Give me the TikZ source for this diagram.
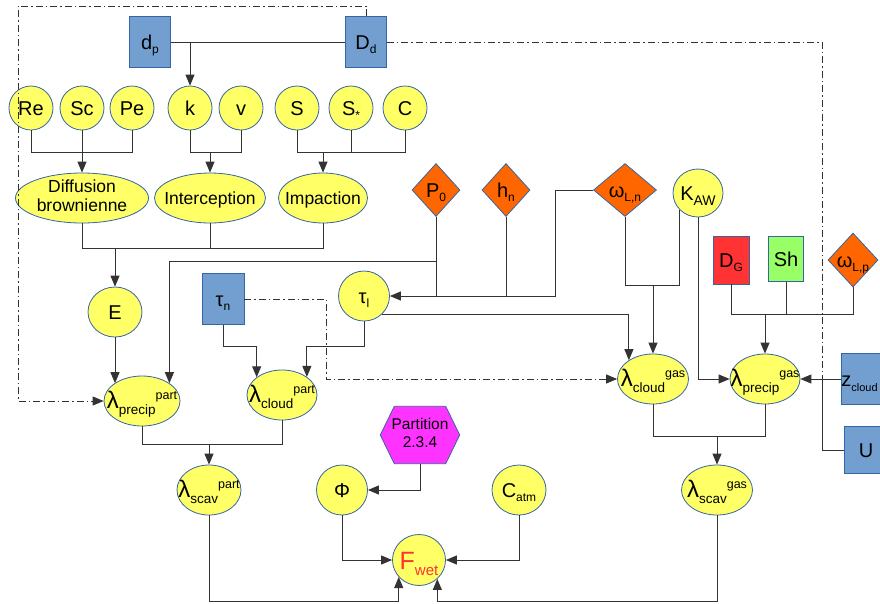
\documentclass[tikz,border=0pt]{standalone}
\usepackage{fontspec}
\setmainfont{Liberation Sans}
\usetikzlibrary{shapes.geometric,arrows.meta,backgrounds,calc}

\definecolor{yel}{HTML}{FFFF66}
\definecolor{bord}{HTML}{3465A4}
\definecolor{blu}{HTML}{729FCF}
\definecolor{ora}{HTML}{FF6600}
\definecolor{redb}{HTML}{FF3333}
\definecolor{grn}{HTML}{99FF66}
\definecolor{mag}{HTML}{FF33FF}
\definecolor{ln}{HTML}{333333}

\newcommand\zb[1]{\makebox[0pt]{\raisebox{-0.36em}[0pt][0pt]{#1}}}
\newcommand\sbs[2]{#1\raisebox{-4pt}{\fontsize{12}{12}\selectfont #2}}
\newcommand\lam[2]{\makebox[0pt]{\raisebox{-7pt}[0pt][0pt]{\fontsize{24}{24}\selectfont λ\raisebox{-6pt}{\fontsize{13.5}{14}\selectfont #1}\raisebox{9pt}{\fontsize{12.5}{13}\selectfont #2}}}}
\newcommand\twol[2]{\makebox[0pt]{\raisebox{-2pt}[0pt][0pt]{\parbox[c]{130pt}{\centering #1\\#2}}}}

\tikzset{
 base/.style={draw=bord, line width=0.8pt, inner sep=0pt, font=\fontsize{20}{24}\selectfont},
 circ/.style={base, ellipse, fill=yel},
 bbox/.style={base, rectangle, fill=blu},
 dia/.style={base, diamond, fill=ora},
 conn/.style={draw=ln, line width=1pt},
 arr/.style={conn, -{Triangle[length=11pt,width=9pt]}},
 dd/.style={draw=ln, line width=1pt, dash pattern=on 7pt off 3pt on 1.5pt off 3pt},
 dda/.style={dd, -{Triangle[length=11pt,width=9pt]}},
}

\begin{document}
\begin{tikzpicture}[x=1pt,y=-1pt]
\useasboundingbox (0,0) rectangle (880,603);
\clip (0,0) rectangle (880,603);

% top boxes
\node[bbox, minimum width=41pt, minimum height=51pt] (dp) at (150,42) {\zb{\sbs{d}{p}}};
\node[bbox, minimum width=41pt, minimum height=51pt] (Dd) at (366,42) {\zb{\sbs{D}{d}}};

% circle row
\tikzset{sc/.style={circ, minimum width=44pt, minimum height=44pt}}
\node[sc] (Re) at (31,108) {\zb{Re}};
\node[sc] (Sc) at (82,108) {\zb{Sc}};
\node[sc] (Pe) at (132,108) {\zb{Pe}};
\node[sc] (k) at (190,108) {\zb{k}};
\node[sc] (v) at (241,108) {\zb{v}};
\node[sc] (S) at (297,108) {\zb{S}};
\node[sc] (Ss) at (351,108) {\zb{\sbs{S}{*}}};
\node[sc] (C) at (405,108) {\zb{C}};

% ellipses
\tikzset{el/.style={circ, minimum height=50pt, font=\fontsize{17.5}{19}\selectfont}}
\node[el, minimum width=133pt] (Diff) at (82,198) {\twol{Diffusion}{brownienne}};
\node[el, minimum width=111pt] (Inter) at (210,198) {\zb{Interception}};
\node[el, minimum width=89pt] (Imp) at (323,198) {\zb{Impaction}};

% diamonds and right-top
\node[dia, minimum width=48pt, minimum height=53pt] (P0) at (436,190) {\zb{\sbs{P}{0}}};
\node[dia, minimum width=48pt, minimum height=53pt] (hn) at (506,190) {\zb{\sbs{h}{n}}};
\node[dia, minimum width=63pt, minimum height=53pt] (wLn) at (625,190) {\zb{\sbs{ω}{L,n}}};
\node[circ, minimum width=50pt, minimum height=48pt] (KAW) at (698,193) {\zb{K\raisebox{-5pt}{\fontsize{14}{14}\selectfont AW}}};
\node[base, rectangle, fill=redb, minimum width=36pt, minimum height=48pt] (DG) at (731,260) {\zb{\sbs{D}{G}}};
\node[base, rectangle, fill=grn, minimum width=35pt, minimum height=45pt] (Sh) at (786,259) {\zb{Sh}};
\node[dia, minimum width=50pt, minimum height=54pt] (wLp) at (853,260) {\zb{\sbs{ω}{L,p}}};

% middle
\node[circ, minimum width=54pt, minimum height=50pt] (E) at (115,312) {\zb{E}};
\node[bbox, minimum width=42pt, minimum height=51pt] (tn) at (223,299) {\zb{\sbs{τ}{n}}};
\node[circ, minimum width=51pt, minimum height=50pt] (tl) at (364,296) {\zb{\sbs{τ}{l}}};

\node[circ, minimum width=76pt, minimum height=50pt] (lpp) at (142,401) {\lam{precip}{part}};
\node[circ, minimum width=70pt, minimum height=50pt] (lcp) at (282,395) {\lam{cloud}{part}};
\node[circ, minimum width=71pt, minimum height=50pt] (lcg) at (653,379) {\lam{cloud}{gas}};
\node[circ, minimum width=70pt, minimum height=50pt] (lpg) at (765,379) {\lam{precip}{gas}};

\node[bbox, minimum width=50pt, minimum height=51pt] (zc) at (866,379) {\zb{\kern-13pt z\raisebox{-5pt}{\fontsize{11}{11}\selectfont cloud}}};
\node[bbox, minimum width=44pt, minimum height=47pt] (U) at (866,450) {\zb{U}};

% bottom
\node[rectangle, inner sep=0pt, minimum width=79pt, minimum height=57pt, font=\fontsize{15.5}{18}\selectfont] (part) at (420,435) {\twol{Partition}{2.3.4}};
\begin{scope}[on background layer]
\draw[draw=bord, fill=mag, line width=0.8pt] ($(part.north west)+(14,0)$) -- ($(part.north east)+(-14,0)$) -- (part.east) -- ($(part.south east)+(-14,0)$) -- ($(part.south west)+(14,0)$) -- (part.west) -- cycle;
\end{scope}
\node[circ, minimum width=64pt, minimum height=50pt] (lsp) at (209,490) {\lam{scav}{part}};
\node[circ, minimum width=51pt, minimum height=50pt] (Phi) at (342,490) {\zb{Φ}};
\node[circ, minimum width=54pt, minimum height=50pt] (Catm) at (519,490) {\zb{\sbs{C}{atm}}};
\node[circ, minimum width=71pt, minimum height=50pt] (lsg) at (717,490) {\lam{scav}{gas}};
\node[circ, minimum width=53pt, minimum height=51pt, font=\fontsize{25}{26}\selectfont] (Fwet) at (419,560) {\zb{\color{redb}F\raisebox{-6pt}{\fontsize{15}{15}\selectfont wet}}};

% junction coordinates
\coordinate (jrow) at (0,152);
\coordinate (jell) at (0,248);
\coordinate (jP) at (0,261);
\coordinate (ctl) at (18,6);
\coordinate (cw) at (555,190);
\coordinate (jtau) at (0,346);
\coordinate (jom) at (0,285);
\coordinate (jdg) at (0,314);
\coordinate (cz) at (822,379);
\coordinate (ct) at (326,379);
\coordinate (jsp) at (0,444);
\coordinate (jsg) at (0,436);
\coordinate (jbot) at (0,601);

% connectors
\draw[conn] (dp.east) -- (Dd.west);
\draw[arr] (k.north |- dp.east) -- (k.north);
\draw[conn] (Re.south) -- (Re.south |- jrow) -| (Pe.south);
\draw[arr] (Sc.south) -- (Diff.north);
\draw[conn] (k.south) -- (k.south |- jrow) -| (v.south);
\draw[arr] (Inter.north |- jrow) -- (Inter.north);
\draw[conn] (S.south) -- (S.south |- jrow) -| (C.south);
\draw[conn] (Ss.south) -- (Ss.south |- jrow);
\draw[arr] (Imp.north |- jrow) -- (Imp.north);
\draw[conn] (Diff.south) -- (Diff.south |- jell) -| (Imp.south);
\draw[conn] (Inter.south) -- (Inter.south |- jell);
\draw[arr] (E.north |- jell) -- (E.north);
\draw[arr] (E.south) -- (E.south |- lpp.147);
\draw[arr] (P0.south) -- (P0.south |- jP) -| (lpp.33);
\draw[conn] (P0.south |- jP) -- (P0.south |- tl.east);
\draw[conn] (hn.south) -- (hn.south |- tl.east);
\draw[arr] (wLn.west) -- (cw) |- (tl.east);
\draw[arr] (tn.south) -- (tn.south |- jtau) -| (lcp.145);
\draw[arr] (tl.south) -- (tl.south |- jtau) -| (lcp.36);
\draw[arr] (tl.-45) -| (lcg.142);
\draw[conn] (wLn.south) -- (wLn.south |- jom) -| (KAW.-137);
\draw[arr] (lcg.north |- jom) -- (lcg.north);
\draw[arr] (KAW.south) |- (lpg.west);
\draw[conn] (DG.south) -- (DG.south |- jdg) -| (wLp.south);
\draw[conn] (Sh.south) -- (Sh.south |- jdg);
\draw[arr] (lpg.north |- jdg) -- (lpg.north);
\draw[arr] (zc.west) -- (lpg.east);
\draw[conn] (U.west) -| (cz);
\draw[dd] (Dd.east) -| (cz);
\draw[dda] (Dd.north) |- (ctl) |- (lpp.west);
\draw[dda] (tn.east) -| (ct) -- (lcg.west);
\draw[conn] (lpp.south) -- (lpp.south |- jsp) -| (lcp.south);
\draw[arr] (lsp.north |- jsp) -- (lsp.north);
\draw[conn] (lcg.south) -- (lcg.south |- jsg) -| (lpg.south);
\draw[arr] (lsg.north |- jsg) -- (lsg.north);
\draw[arr] (part.south) |- (Phi.east);
\draw[arr] (Phi.south) |- (Fwet.west);
\draw[arr] (Catm.south) |- (Fwet.east);
\draw[arr] (lsp.south) -- (lsp.south |- jbot) -| (Fwet.-140);
\draw[arr] (lsg.south) -- (lsg.south |- jbot) -| (Fwet.-46);
\end{tikzpicture}
\end{document}
